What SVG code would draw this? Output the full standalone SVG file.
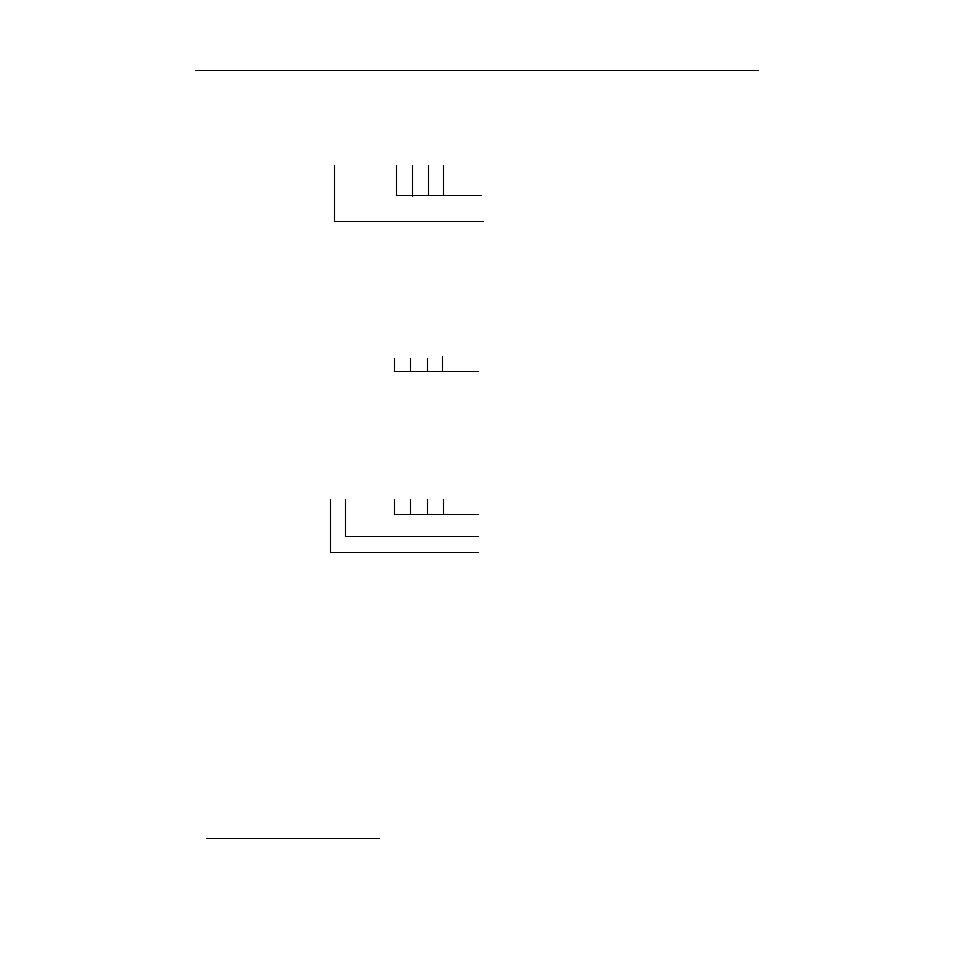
<svg xmlns="http://www.w3.org/2000/svg" width="954" height="954" viewBox="0 0 954 954">
<style>
line{stroke:#000;stroke-width:1.1;fill:none}
</style>
<rect width="954" height="954" fill="#fff"/>
<g id="page-rules">
<line x1="195" y1="70.5" x2="759" y2="70.5"/>
<line x1="206" y1="838.5" x2="380" y2="838.5"/>
</g>
<g id="figure1">
<line x1="334.5" y1="165" x2="334.5" y2="221.5"/>
<line x1="334" y1="221.5" x2="484" y2="221.5"/>
<line x1="396.5" y1="165" x2="396.5" y2="195.5"/>
<line x1="412.5" y1="165" x2="412.5" y2="197"/>
<line x1="428.5" y1="165" x2="428.5" y2="195.5"/>
<line x1="443.5" y1="165" x2="443.5" y2="195.5"/>
<line x1="396" y1="195.5" x2="482" y2="195.5"/>
</g>
<g id="figure2">
<line x1="394.5" y1="358" x2="394.5" y2="371.5"/>
<line x1="410.5" y1="358" x2="410.5" y2="371.5"/>
<line x1="427.5" y1="358" x2="427.5" y2="371.5"/>
<line x1="442.5" y1="356" x2="442.5" y2="371.5"/>
<line x1="394" y1="371.5" x2="479" y2="371.5"/>
</g>
<g id="figure3">
<line x1="330.5" y1="499" x2="330.5" y2="552.5"/>
<line x1="330" y1="552.5" x2="479" y2="552.5"/>
<line x1="345.5" y1="499" x2="345.5" y2="536.5"/>
<line x1="345" y1="536.5" x2="479" y2="536.5"/>
<line x1="394.5" y1="499" x2="394.5" y2="514.5"/>
<line x1="410.5" y1="499" x2="410.5" y2="514.5"/>
<line x1="427.5" y1="499" x2="427.5" y2="514.5"/>
<line x1="443.5" y1="499" x2="443.5" y2="514.5"/>
<line x1="394" y1="514.5" x2="479" y2="514.5"/>
</g>
</svg>
